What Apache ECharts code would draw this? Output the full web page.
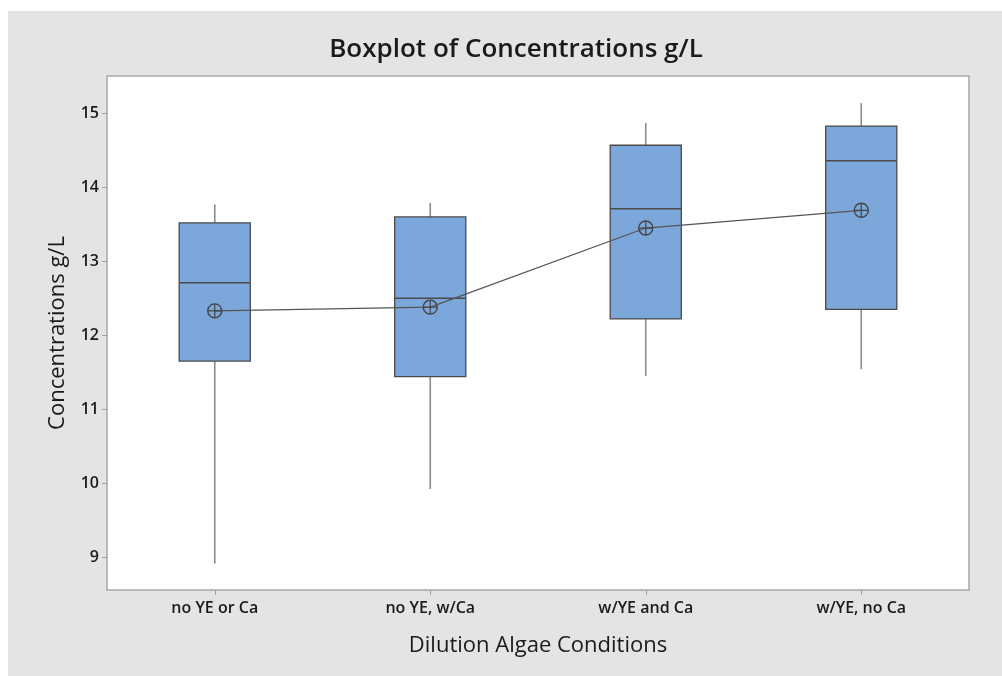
<!DOCTYPE html>
<html>
<head>
<meta charset="utf-8">
<title>Boxplot of Concentrations g/L</title>
<script src="https://cdn.jsdelivr.net/npm/echarts@6/dist/echarts.min.js"></script>
<style>
  html, body { margin: 0; padding: 0; background: #ffffff; }
  #chart { width: 1002px; height: 676px; }
</style>
</head>
<body>
<div id="chart"></div>
<script>
// Dilution conditions and their concentration summaries (g/L)
const categories = ['no YE or Ca', 'no YE, w/Ca', 'w/YE and Ca', 'w/YE, no Ca'];
const whiskerLow  = [8.91, 9.92, 11.45, 11.54];
const q1          = [11.65, 11.44, 12.22, 12.35];
const median      = [12.71, 12.50, 13.71, 14.36];
const q3          = [13.52, 13.60, 14.57, 14.83];
const whiskerHigh = [13.77, 13.79, 14.87, 15.14];
const means       = [12.33, 12.38, 13.45, 13.69];
const yTicks      = [9, 10, 11, 12, 13, 14, 15];

const FONT = '"Open Sans", "Noto Sans", sans-serif';

const boxData = categories.map((c, i) => [i, whiskerLow[i], q1[i], median[i], q3[i], whiskerHigh[i]]);
const meanData = categories.map((c, i) => [i, means[i]]);

// Whiskers without end caps, box from Q1 to Q3 and a median line
function renderBox(params, api) {
  const idx = api.value(0);
  const lo = api.coord([idx, api.value(1)]);
  const b1 = api.coord([idx, api.value(2)]);
  const md = api.coord([idx, api.value(3)]);
  const b3 = api.coord([idx, api.value(4)]);
  const hi = api.coord([idx, api.value(5)]);
  const half = api.size([1, 0])[0] * 0.165;
  const x = lo[0];
  return {
    type: 'group',
    children: [
      { type: 'line', shape: { x1: x, y1: hi[1], x2: x, y2: b3[1] },
        style: { stroke: '#8a8a8a', lineWidth: 1.6 } },
      { type: 'line', shape: { x1: x, y1: b1[1], x2: x, y2: lo[1] },
        style: { stroke: '#8a8a8a', lineWidth: 1.6 } },
      { type: 'rect', shape: { x: x - half, y: b3[1], width: half * 2, height: b1[1] - b3[1] },
        style: { fill: '#7ba7da', stroke: '#4a4a4a', lineWidth: 1.3 } },
      { type: 'line', shape: { x1: x - half, y1: md[1], x2: x + half, y2: md[1] },
        style: { stroke: '#4a4a4a', lineWidth: 1.4 } }
    ]
  };
}

// Mean marker: circle with a crosshair
function renderMean(params, api) {
  const p = api.coord([api.value(0), api.value(1)]);
  const r = 7;
  return {
    type: 'group',
    children: [
      { type: 'circle', shape: { cx: p[0], cy: p[1], r: r },
        style: { fill: 'none', stroke: '#444444', lineWidth: 1.4 } },
      { type: 'line', shape: { x1: p[0] - r, y1: p[1], x2: p[0] + r, y2: p[1] },
        style: { stroke: '#444444', lineWidth: 1.2 } },
      { type: 'line', shape: { x1: p[0], y1: p[1] - r, x2: p[0], y2: p[1] + r },
        style: { stroke: '#444444', lineWidth: 1.2 } }
    ]
  };
}

const chart = echarts.init(document.getElementById('chart'), null, { renderer: 'canvas' });
chart.setOption({
  animation: false,
  backgroundColor: '#ffffff',
  graphic: [
    { type: 'rect', left: 8, top: 11, z: -10,
      shape: { width: 994, height: 665 },
      style: { fill: '#e4e4e4' } }
  ],
  title: {
    text: 'Boxplot of Concentrations g/L',
    left: 511, top: 32, textAlign: 'center',
    textStyle: { fontFamily: FONT, fontSize: 26, fontWeight: 600, color: '#1a1a1a' }
  },
  grid: {
    left: 107, right: 33, top: 76, bottom: 86,
    show: true, backgroundColor: '#ffffff', borderColor: '#a8a8a8', borderWidth: 1.5
  },
  xAxis: {
    type: 'category',
    data: categories,
    boundaryGap: true,
    name: 'Dilution Algae Conditions',
    nameLocation: 'middle',
    nameGap: 45,
    nameTextStyle: { fontFamily: FONT, fontSize: 22, fontWeight: 500, color: '#1a1a1a' },
    axisLine: { show: false },
    axisTick: { show: true, alignWithLabel: true, length: 5, lineStyle: { color: '#a0a0a0' } },
    axisLabel: { fontFamily: FONT, fontSize: 16, fontWeight: 600, color: '#1a1a1a', margin: 10 },
    splitLine: { show: false }
  },
  yAxis: {
    type: 'value',
    min: 8.553, max: 15.507,
    name: 'Concentrations g/L',
    nameLocation: 'middle',
    nameGap: 38,
    nameTextStyle: { fontFamily: FONT, fontSize: 22, fontWeight: 500, color: '#1a1a1a' },
    axisLine: { show: false },
    axisTick: { show: true, length: 5, lineStyle: { color: '#a0a0a0' }, customValues: yTicks },
    axisLabel: { fontFamily: FONT, fontSize: 16, fontWeight: 600, color: '#1a1a1a', margin: 8,
                 customValues: yTicks },
    splitLine: { show: false }
  },
  series: [
    {
      type: 'custom',
      name: 'box',
      renderItem: renderBox,
      encode: { x: 0, y: [1, 2, 3, 4, 5] },
      data: boxData,
      z: 2
    },
    {
      type: 'line',
      name: 'mean',
      data: meanData,
      symbol: 'none',
      lineStyle: { color: '#555555', width: 1.2 },
      z: 3
    },
    {
      type: 'custom',
      name: 'meanMarker',
      renderItem: renderMean,
      encode: { x: 0, y: 1 },
      data: meanData,
      z: 4
    }
  ]
});
</script>
</body>
</html>
